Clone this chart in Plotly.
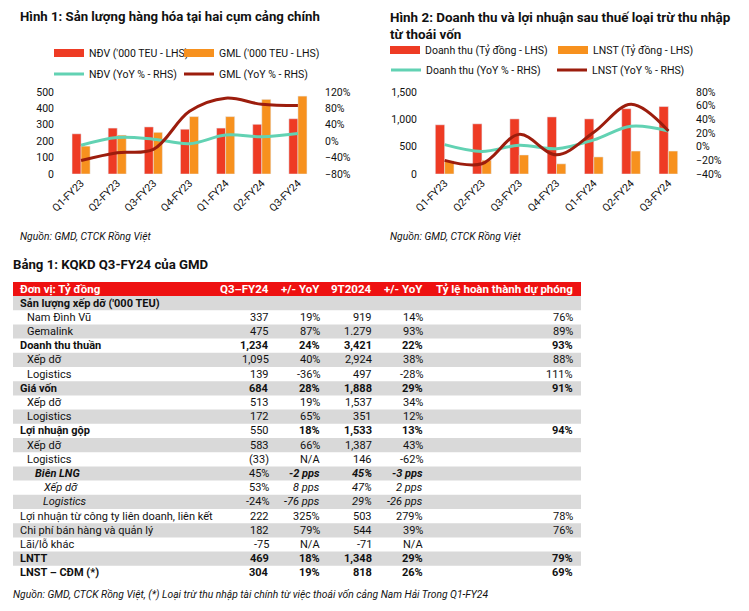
import plotly.graph_objects as go

# page body has an 8px margin: the figure is sized to fit the 749x611 window
OFF = 8
W, H = 749 - 2 * OFF, 611 - 2 * OFF
FONT = "Roboto"

# ---------------- data ----------------
quarters = ["Q1-FY23", "Q2-FY23", "Q3-FY23", "Q4-FY23", "Q1-FY24", "Q2-FY24", "Q3-FY24"]

ndv_teu = [245, 280, 287, 273, 280, 303, 337]
gml_teu = [170, 237, 254, 350, 350, 455, 475]
ndv_yoy = [-10, 9, 5, -6, 15, 11, 19]
gml_yoy = [-47, -28, -20, 73, 105, 90, 87]

revenue = [900, 918, 1008, 1044, 1008, 1194, 1234]
npat = [240, 252, 348, 186, 312, 420, 420]
revenue_yoy = [3, -7, 2, -3, 10, 30, 23]
npat_yoy = [-20, -25, 18, -12, 21, 62, 23]

header = ["Đơn vị: Tỷ đồng", "Q3–FY24", "+/- YoY", "9T2024", "+/- YoY", "Tỷ lệ hoàn thành dự phóng"]
row_labels = ["Sản lượng xếp dỡ ('000 TEU)", "Nam Đình Vũ", "Gemalink", "Doanh thu thuần", "Xếp dỡ",
              "Logistics", "Giá vốn", "Xếp dỡ", "Logistics", "Lợi nhuận gộp", "Xếp dỡ", "Logistics",
              "Biên LNG", "Xếp dỡ", "Logistics", "Lợi nhuận từ công ty liên doanh, liên kết",
              "Chi phí bán hàng và quản lý", "Lãi/lỗ khác", "LNTT", "LNST – CĐM (*)"]
q3_vals = ["", "337", "475", "1,234", "1,095", "139", "684", "513", "172", "550", "583", "(33)",
           "45%", "53%", "-24%", "222", "182", "-75", "469", "304"]
q3_yoy = ["", "19%", "87%", "24%", "40%", "-36%", "28%", "19%", "65%", "18%", "66%", "N/A",
          "-2 pps", "8 pps", "-76 pps", "325%", "79%", "N/A", "18%", "19%"]
ytd_vals = ["", "919", "1.279", "3,421", "2,924", "497", "1,888", "1,537", "351", "1,533", "1,387", "146",
            "45%", "47%", "29%", "503", "544", "-71", "1,348", "818"]
ytd_yoy = ["", "14%", "93%", "22%", "38%", "-28%", "29%", "34%", "12%", "13%", "43%", "-62%",
           "-3 pps", "2 pps", "-26 pps", "279%", "39%", "N/A", "29%", "26%"]
completion = ["", "76%", "89%", "93%", "88%", "111%", "91%", "", "", "94%", "", "", "", "", "",
              "78%", "76%", "", "79%", "69%"]
indent = [0, 1, 1, 0, 1, 1, 0, 1, 1, 0, 1, 1, 2, 3, 3, 0, 0, 0, 0, 0]
row_style = ["b", "n", "n", "b", "n", "n", "b", "n", "n", "b", "n", "n", "bi", "i", "i", "n", "n", "n", "b", "b"]

# ---------------- colours ----------------
RED = "#EE3B24"
ORANGE = "#F7911E"
TEAL = "#62D2B3"
DARKRED = "#9C1D0D"
HEADER_RED = "#EE1111"
GRAY = "#D9D9D9"
TXT = "#111111"


def px(x):
    return (x - OFF) / W


def py(y):
    return 1 - (y - OFF) / H


fig = go.Figure()

# ---------- chart 1 ----------
fig.add_trace(go.Bar(x=quarters, y=ndv_teu, name="NĐV ('000 TEU - LHS)", marker_color=RED,
                     xaxis="x", yaxis="y", showlegend=False, offsetgroup="a"))
fig.add_trace(go.Bar(x=quarters, y=gml_teu, name="GML ('000 TEU - LHS)", marker_color=ORANGE,
                     xaxis="x", yaxis="y", showlegend=False, offsetgroup="b"))
fig.add_trace(go.Scatter(x=quarters, y=ndv_yoy, name="NĐV (YoY % - RHS)", mode="lines",
                         line=dict(color=TEAL, width=3, shape="spline"), xaxis="x", yaxis="y2",
                         legend="legend3"))
fig.add_trace(go.Scatter(x=quarters, y=gml_yoy, name="GML (YoY % - RHS)", mode="lines",
                         line=dict(color=DARKRED, width=3, shape="spline"), xaxis="x", yaxis="y2",
                         legend="legend4"))
# legend proxies for bars (wide rectangles)
fig.add_trace(go.Scatter(x=[None], y=[None], name="NĐV ('000 TEU - LHS)", mode="lines",
                         line=dict(color=RED, width=8), xaxis="x", yaxis="y", legend="legend"))
fig.add_trace(go.Scatter(x=[None], y=[None], name="GML ('000 TEU - LHS)", mode="lines",
                         line=dict(color=ORANGE, width=8), xaxis="x", yaxis="y", legend="legend2"))

# ---------- chart 2 ----------
fig.add_trace(go.Bar(x=quarters, y=revenue, name="Doanh thu (Tỷ đồng - LHS)", marker_color=RED,
                     xaxis="x2", yaxis="y3", showlegend=False, offsetgroup="a"))
fig.add_trace(go.Bar(x=quarters, y=npat, name="LNST (Tỷ đồng - LHS)", marker_color=ORANGE,
                     xaxis="x2", yaxis="y3", showlegend=False, offsetgroup="b"))
fig.add_trace(go.Scatter(x=quarters, y=revenue_yoy, name="Doanh thu (YoY % - RHS)", mode="lines",
                         line=dict(color=TEAL, width=3, shape="spline"), xaxis="x2", yaxis="y4",
                         legend="legend7"))
fig.add_trace(go.Scatter(x=quarters, y=npat_yoy, name="LNST (YoY % - RHS)", mode="lines",
                         line=dict(color=DARKRED, width=3, shape="spline"), xaxis="x2", yaxis="y4",
                         legend="legend8"))
fig.add_trace(go.Scatter(x=[None], y=[None], name="Doanh thu (Tỷ đồng - LHS)", mode="lines",
                         line=dict(color=RED, width=8), xaxis="x2", yaxis="y3", legend="legend5"))
fig.add_trace(go.Scatter(x=[None], y=[None], name="LNST (Tỷ đồng - LHS)", mode="lines",
                         line=dict(color=ORANGE, width=8), xaxis="x2", yaxis="y3", legend="legend6"))

# ---------- layout ----------
tickfont = dict(family=FONT, size=10.5, color=TXT)
ydom = [py(174), py(92)]
common_x = dict(showgrid=False, zeroline=False, showline=False, ticks="", tickangle=-45,
                tickfont=tickfont, automargin=False)
common_y = dict(showgrid=False, zeroline=False, showline=False, ticks="", tickfont=tickfont,
                ticklabelstandoff=8, automargin=False)

legend_common = dict(orientation="h", bgcolor="rgba(0,0,0,0)", borderwidth=0,
                     font=dict(family=FONT, size=10.5, color=TXT),
                     xanchor="left", yanchor="middle", itemwidth=30)

# legend text start positions (px) for each single-item legend
legend_pos = {
    "legend": (91, 53), "legend2": (221, 53), "legend3": (91, 74), "legend4": (221, 74),
    "legend5": (427, 50), "legend6": (595, 50), "legend7": (428, 70), "legend8": (594, 70),
}
legends = {k: dict(x=px(tx - 42), y=py(ty), **legend_common) for k, (tx, ty) in legend_pos.items()}

fig.update_layout(
    width=W, height=H,
    margin=dict(l=0, r=0, t=0, b=0, autoexpand=False),
    paper_bgcolor="white", plot_bgcolor="white",
    font=dict(family=FONT, color=TXT),
    barmode="group", bargap=0.5, bargroupgap=0,
    xaxis=dict(domain=[px(63), px(316)], anchor="y", **common_x),
    yaxis=dict(domain=ydom, anchor="x", range=[0, 500], dtick=100, **common_y),
    yaxis2=dict(overlaying="y", side="right", anchor="x", range=[-80, 120], dtick=40,
                ticksuffix="%", **common_y),
    xaxis2=dict(domain=[px(426), px(687)], anchor="y3", **common_x),
    yaxis3=dict(domain=ydom, anchor="x2", range=[0, 1500], dtick=500, tickformat=",", **common_y),
    yaxis4=dict(overlaying="y3", side="right", anchor="x2", range=[-40, 80], dtick=20,
                ticksuffix="%", **common_y),
    **legends,
)

annotations = [
    dict(text="<b>Hình 1: Sản lượng hàng hóa tại hai cụm cảng chính</b>", x=px(19), y=py(17),
         font=dict(size=13.2), yanchor="middle"),
    dict(text="<b>Hình 2: Doanh thu và lợi nhuận sau thuế loại trừ thu nhập<br>từ thoái vốn</b>",
         x=px(389), y=py(8.5), font=dict(size=13.4), yanchor="top"),
    dict(text="<i>Nguồn: GMD, CTCK Rồng Việt</i>", x=px(19), y=py(237), font=dict(size=10.3)),
    dict(text="<i>Nguồn: GMD, CTCK Rồng Việt</i>", x=px(389), y=py(237), font=dict(size=10.3)),
    dict(text="<b>Bảng 1: KQKD Q3-FY24 của GMD</b>", x=px(12), y=py(264), font=dict(size=13.2)),
    dict(text="<i>Nguồn: GMD, CTCK Rồng Việt, (*) Loại trừ thu nhập tài chính từ việc thoái vốn cảng Nam Hải Trong Q1-FY24</i>",
         x=px(12), y=py(594), font=dict(size=10.3)),
]
for a in annotations:
    a.update(xanchor="left", align="left")

# ---------- table (shapes + text) ----------
TBL_L, TBL_R = 13, 581
HEAD_T, HEAD_B = 282, 296
ROW_H = 14.2
col_right = [270, 321, 373, 424, 574]
indent_x = [19, 26, 34, 42]
TFS = 11
HFS = 11.5

shapes = [dict(type="rect", xref="paper", yref="paper", x0=px(TBL_L), x1=px(TBL_R),
               y0=py(HEAD_B), y1=py(HEAD_T), fillcolor=HEADER_RED, line_width=0, layer="below")]
for i in range(len(row_labels)):
    if i % 2 == 0:
        top = HEAD_B + i * ROW_H
        shapes.append(dict(type="rect", xref="paper", yref="paper", x0=px(TBL_L), x1=px(TBL_R),
                           y0=py(top + ROW_H), y1=py(top), fillcolor=GRAY, line_width=0, layer="below"))


def fmt(text, style):
    if not text:
        return text
    if "b" in style:
        text = "<b>" + text + "</b>"
    if "i" in style:
        text = "<i>" + text + "</i>"
    return text


head_y = (HEAD_T + HEAD_B) / 2
annotations.append(dict(text="<b>" + header[0] + "</b>", x=px(indent_x[0]), y=py(head_y), xanchor="left",
                        font=dict(size=HFS, color="white")))
for c, h in enumerate(header[1:]):
    annotations.append(dict(text="<b>" + h + "</b>", x=px(col_right[c]), y=py(head_y), xanchor="right",
                            font=dict(size=HFS, color="white")))

value_cols = [q3_vals, q3_yoy, ytd_vals, ytd_yoy, completion]
for i, lab in enumerate(row_labels):
    yc = HEAD_B + (i + 0.5) * ROW_H
    st = row_style[i]
    annotations.append(dict(text=fmt(lab, st), x=px(indent_x[indent[i]]), y=py(yc), xanchor="left",
                            font=dict(size=TFS)))
    for c, col in enumerate(value_cols):
        if not col[i]:
            continue
        cst = "n" if (c == 0 and ("i" in st or i == 9)) else st
        annotations.append(dict(text=fmt(col[i], cst), x=px(col_right[c]), y=py(yc), xanchor="right",
                                font=dict(size=TFS)))

for a in annotations:
    a.update(xref="paper", yref="paper", showarrow=False, borderpad=0)
    a.setdefault("yanchor", "middle")
    a.setdefault("font", {})
    a["font"].setdefault("color", TXT)
    a["font"]["family"] = FONT

fig.update_layout(annotations=annotations, shapes=shapes)

fig.write_html("out.html")
